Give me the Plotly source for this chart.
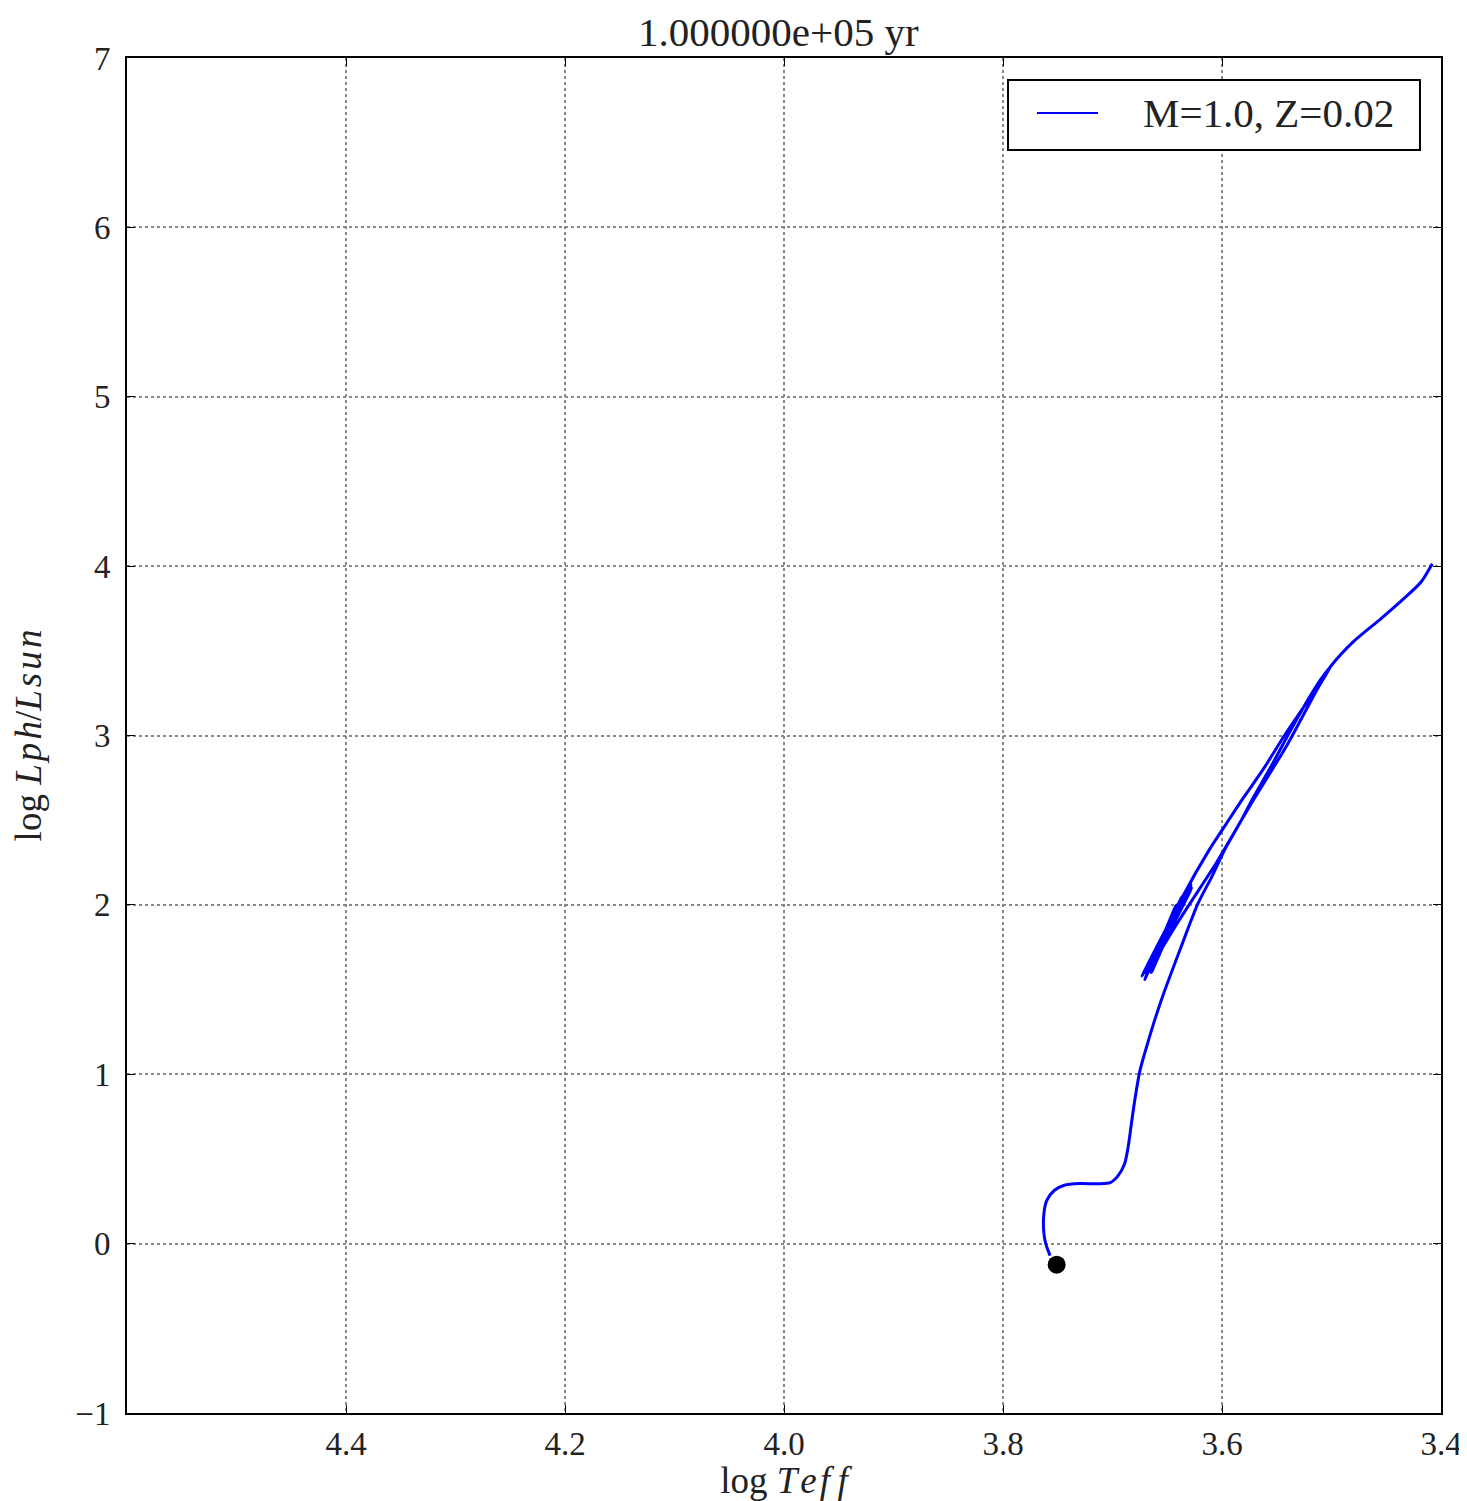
import plotly.graph_objects as go

# Evolutionary track (log Teff, log L/Lsun), in order
log_teff = [3.757, 3.761, 3.7628, 3.7626, 3.760, 3.753, 3.744, 3.730, 3.712, 3.702, 3.695, 3.689, 3.6855, 3.6825, 3.679,
            3.675, 3.668, 3.661, 3.654, 3.638, 3.622, 3.609, 3.597, 3.584, 3.572, 3.555, 3.539, 3.521, 3.510, 3.501,
            3.515, 3.540, 3.575, 3.605, 3.640, 3.668, 3.6706,
            3.6365, 3.6645, 3.6327, 3.6731, 3.6277, 3.6660, 3.6418, 3.6623, 3.6282, 3.6700, 3.6350,
            3.611, 3.596, 3.581, 3.562, 3.543, 3.522, 3.501, 3.480, 3.455, 3.434, 3.418, 3.408]
log_l = [-0.071, 0.0, 0.071, 0.18, 0.255, 0.315, 0.345, 0.355, 0.353, 0.36, 0.40, 0.47, 0.58, 0.72, 0.874,
         1.02, 1.181, 1.33, 1.464, 1.741, 2.007, 2.17, 2.332, 2.48, 2.627, 2.82, 3.011, 3.217, 3.33, 3.406,
         3.25, 2.95, 2.58, 2.25, 1.90, 1.594, 1.560,
         2.050, 1.600, 2.080, 1.580, 2.100, 1.620, 2.000, 1.650, 2.120, 1.600, 2.060,
         2.332, 2.48, 2.627, 2.804, 3.000, 3.200, 3.406, 3.554, 3.689, 3.808, 3.908, 4.014]

# Current position marker
dot_teff = [3.751]
dot_l = [-0.124]

title_text = "1.000000e+05 yr"
series_name = "M=1.0, Z=0.02"
x_ticks = [4.4, 4.2, 4.0, 3.8, 3.6, 3.4]
y_ticks = [-1, 0, 1, 2, 3, 4, 5, 6, 7]

FONT = "Liberation Serif, DejaVu Serif, serif"
TXT = "#222222"
BLUE = "#0000ff"

fig = go.Figure()
fig.add_trace(go.Scatter(x=log_teff, y=log_l, mode="lines", name=series_name, showlegend=False,
                         line=dict(color=BLUE, width=3, shape="spline", smoothing=0.7)))
fig.add_trace(go.Scatter(x=dot_teff, y=dot_l, mode="markers", showlegend=False,
                         marker=dict(color="black", size=18)))

axis_common = dict(showgrid=True, gridcolor="#888888", griddash="dot", gridwidth=1.5,
                   showline=True, linecolor="black", linewidth=2, mirror="allticks",
                   ticks="inside", ticklen=8, tickcolor="black", zeroline=False,
                   tickfont=dict(family=FONT, size=33, color=TXT))

fig.update_xaxes(range=[4.6, 3.4], tickvals=x_ticks, ticktext=[f"{v:.1f}" for v in x_ticks],
                 title=dict(text="log <i>T\u200ae\u200af\u2009f</i>", font=dict(family=FONT, size=37, color=TXT), standoff=0),
                 **axis_common)
fig.update_yaxes(range=[-1, 7], tickvals=y_ticks, ticklabelstandoff=8,
                 title=dict(text="log <i>L\u200ap\u200ah</i>/<i>L\u200as\u200au\u200an</i>", font=dict(family=FONT, size=37, color=TXT), standoff=22),
                 **axis_common)

# Manual legend box (matplotlib style)
fig.add_shape(type="rect", xref="paper", yref="paper", x0=0.6705, x1=0.984, y0=0.9321, y1=0.9838,
              line=dict(color="black", width=2), fillcolor="white", layer="above")
fig.add_shape(type="line", xref="paper", yref="paper", x0=0.6925, x1=0.739, y0=0.9594, y1=0.9594,
              line=dict(color=BLUE, width=2), layer="above")
fig.add_annotation(xref="paper", yref="paper", x=0.772, y=0.9594, xanchor="left", yanchor="middle",
                   text=series_name, showarrow=False, font=dict(family=FONT, size=41, color=TXT))

fig.update_layout(
    width=1459, height=1493,
    margin=dict(l=119, r=26, t=50, b=88, autoexpand=False),
    paper_bgcolor="white", plot_bgcolor="white",
    title=dict(text=title_text, x=0.528, xanchor="center", y=0.984, yanchor="middle",
               font=dict(family=FONT, size=41, color=TXT)),
    showlegend=False,
)

fig.write_html("out.html")
